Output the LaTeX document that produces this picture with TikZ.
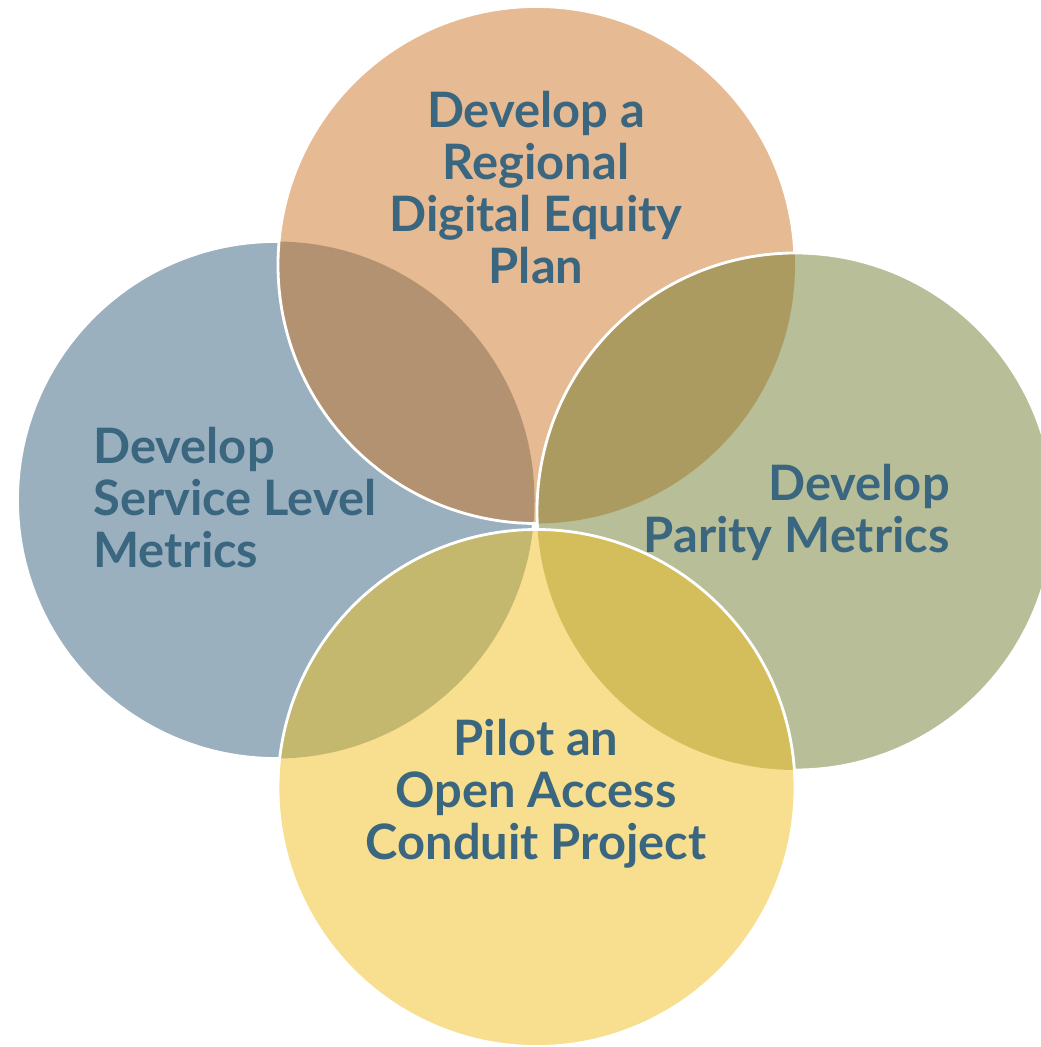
\documentclass[tikz,border=0pt]{standalone}
\usepackage{fontspec}
\setmainfont{Lato}
\usepackage{tikz}
\usetikzlibrary{positioning}

\definecolor{planorange}{RGB}{205,117,37}
\definecolor{servblue}{RGB}{53,97,125}
\definecolor{paritysage}{RGB}{113,125,49}
\definecolor{pilotyellow}{RGB}{239,191,31}
\definecolor{goaltext}{RGB}{59,102,128}

\newcommand{\rad}{5.17}
% keep a rim away from the inside of a later circle
\newcommand{\cutaway}[1]{\clip (-1,1) rectangle (22,-22) (#1) circle (\rad);}

\begin{document}
\begin{tikzpicture}[
    disc/.style={fill opacity=0.5},
    rim/.style={draw=white, line width=1.6pt},
    goal/.style={font=\bfseries\fontsize{27.8}{29.6}\selectfont, text=goaltext, inner sep=0pt}
  ]
    \useasboundingbox (0,0) rectangle (20.8,-20.94);

    % Circle centres
    \coordinate (cserv) at (5.52,-10.00);
    \coordinate (cplan) at (10.73,-5.30);
    \coordinate (cparity) at (15.91,-10.23);
    \coordinate (cpilot) at (10.73,-15.76);

    % Fills, half see-through
    \fill[disc, servblue] (cserv) circle (\rad);
    \fill[disc, planorange] (cplan) circle (\rad);
    \fill[disc, paritysage] (cparity) circle (\rad);
    \fill[disc, pilotyellow] (cpilot) circle (\rad);

    % White rims
    \begin{scope}[even odd rule]
      \cutaway{cplan}
      \cutaway{cpilot}
      \draw[rim] (cserv) circle (\rad);
    \end{scope}
    \begin{scope}[even odd rule]
      \cutaway{cparity}
      \cutaway{cpilot}
      \draw[rim] (cplan) circle (\rad);
    \end{scope}
    \begin{scope}[even odd rule]
      \cutaway{cpilot}
      \draw[rim] (cparity) circle (\rad);
    \end{scope}
    \draw[rim] (cpilot) circle (\rad);

    % Goals
    \node[goal, align=center, anchor=north] (plan) at (10.72,-1.82)
      {Develop a\\Regional\\Digital Equity\\Plan};
    \node[goal, align=left, anchor=north west] (serv) at (1.86,-8.54)
      {Develop\\Service Level\\Metrics};
    \node[goal, align=right, anchor=north east] (parity) at (19.00,-9.28)
      {Develop\\Parity Metrics};
    \node[goal, align=center, anchor=north] (pilot) at (10.72,-14.38)
      {Pilot an\\Open Access\\Conduit Project};
\end{tikzpicture}
\end{document}
